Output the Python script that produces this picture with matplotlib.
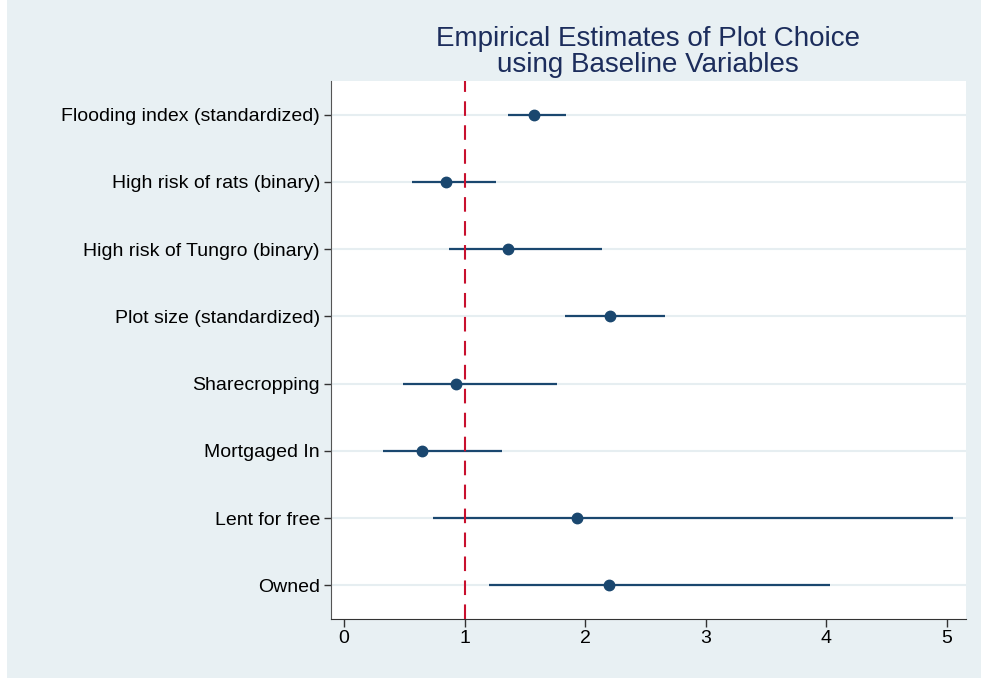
import matplotlib.pyplot as plt
from matplotlib.patches import Rectangle

plt.rcParams['font.family'] = ['Liberation Sans', 'DejaVu Sans']

labels = ["Flooding index (standardized)", "High risk of rats (binary)",
          "High risk of Tungro (binary)", "Plot size (standardized)",
          "Sharecropping", "Mortgaged In", "Lent for free", "Owned"]
est = [1.575, 0.846, 1.36, 2.205, 0.93, 0.647, 1.93, 2.20]
lo = [1.36, 0.564, 0.87, 1.83, 0.49, 0.32, 0.74, 1.20]
hi = [1.84, 1.26, 2.14, 2.66, 1.77, 1.31, 5.05, 4.03]

bg = '#e8f0f3'
navy = '#1a476f'

fig = plt.figure(figsize=(9.81, 6.78), dpi=100, facecolor='white')
fig.patches.append(Rectangle((7 / 981, 0), 1, 1, transform=fig.transFigure,
                             facecolor=bg, edgecolor='none', zorder=-10))
ax = fig.add_axes([331 / 981, 59 / 678, 635 / 981, 538 / 678])
ax.set_zorder(5)
ax.set_facecolor('white')

n = len(labels)
ypos = [n - i for i in range(n)]

for y in ypos:
    ax.axhline(y, color='#e6eef1', lw=1.5, zorder=1)

ax.hlines(ypos, lo, hi, color=navy, lw=1.6, zorder=3)
ax.axvline(1, color='#c8102e', lw=1.5, dashes=(7, 4.5), zorder=3.5)
ax.plot(est, ypos, 'o', color=navy, markersize=7.5, zorder=4)

ax.set_ylim(0.5, n + 0.5)
ax.set_xlim(-0.108, 5.16)
ax.set_yticks(ypos)
ax.set_yticklabels(labels, fontsize=14)
ax.set_xticks([0, 1, 2, 3, 4, 5])
ax.tick_params(axis='x', labelsize=14, length=6, width=1, color='#333333', pad=2)
ax.tick_params(axis='y', length=5, width=1, color='#333333', pad=3)

for s in ['top', 'right']:
    ax.spines[s].set_visible(False)
ax.spines['left'].set_color('#555555')
ax.spines['bottom'].set_color('#333333')

fig.text(648 / 981, 1 - 52 / 678, "Empirical Estimates of Plot Choice\nusing Baseline Variables",
         ha='center', va='center', fontsize=20, color='#1c2d5c', linespacing=0.95)

fig.savefig('out.png', dpi=100, facecolor=fig.get_facecolor())
